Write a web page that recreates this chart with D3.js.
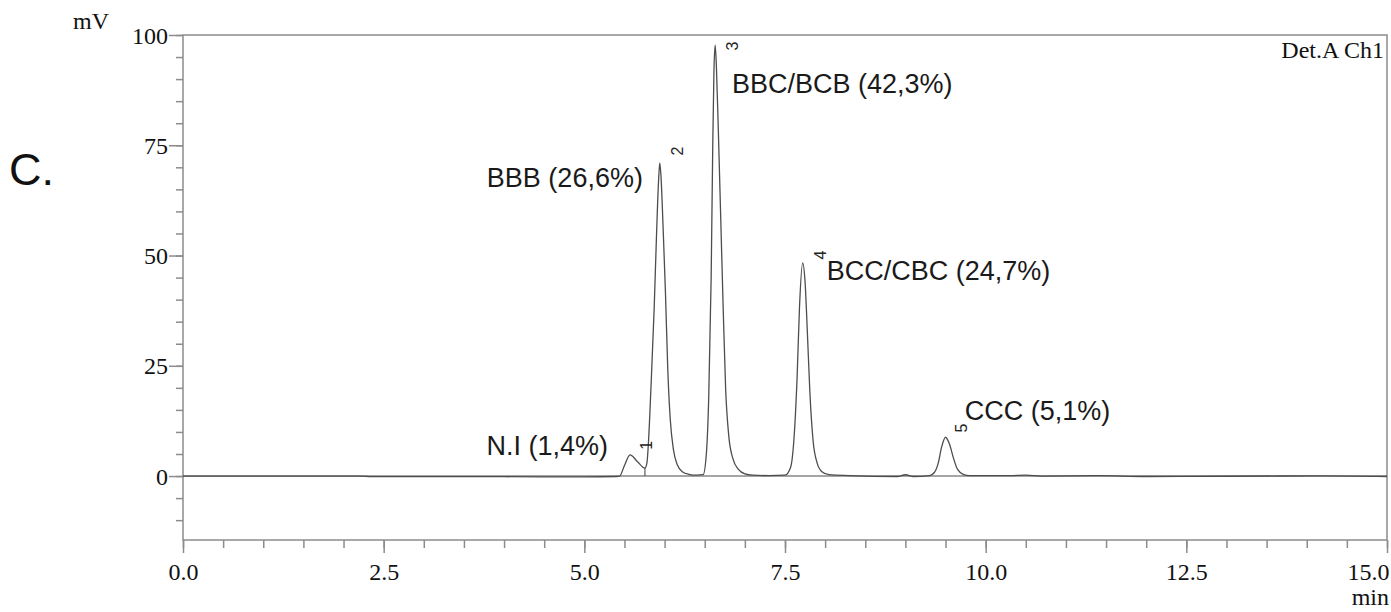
<!DOCTYPE html>
<html>
<head>
<meta charset="utf-8">
<script src="https://cdn.jsdelivr.net/npm/d3@7"></script>
<style>
  html, body { margin: 0; padding: 0; background: #fff; }
  svg { display: block; }
</style>
</head>
<body>
<svg id="chart" width="1391" height="612"></svg>
<script>
// ---------------- DATA ----------------
const xTickValues = [0, 2.5, 5, 7.5, 10, 12.5, 15];
const xTickLabels = ["0.0", "2.5", "5.0", "7.5", "10.0", "12.5", "15.0"];
const yTickValues = [0, 25, 50, 75, 100];
const yTickLabels = ["0", "25", "50", "75", "100"];

const peakNumbers = ["1", "2", "3", "4", "5"];
const peakNames = ["N.I (1,4%)", "BBB (26,6%)", "BBC/BCB (42,3%)", "BCC/CBC (24,7%)", "CCC (5,1%)"];
const peakTimes = [5.57, 5.94, 6.63, 7.72, 9.50];      // min
const peakHeights = [4.8, 71.0, 97.7, 48.3, 8.8];      // mV

// chromatogram trace: [time (min), signal (mV)]
const signal = [
  [0.00, 0.0], [1.00, 0.0], [2.20, 0.0], [2.35, -0.15], [4.00, -0.15], [5.00, -0.2], [5.40, -0.1],
  [5.44, 0.0], [5.50, 2.4], [5.57, 4.8], [5.66, 3.3], [5.755, 1.8],
  [5.78, 3.0], [5.80, 8.0], [5.83, 20], [5.87, 38], [5.90, 55], [5.925, 67], [5.94, 71.0],
  [5.955, 68], [5.98, 57], [6.01, 42], [6.04, 24], [6.07, 13], [6.11, 6], [6.16, 2.5],
  [6.22, 1.0], [6.30, 0.4], [6.40, 0.2], [6.48, 0.3],
  [6.52, 5], [6.55, 18], [6.58, 45], [6.60, 75], [6.615, 92], [6.63, 97.7], [6.645, 93],
  [6.67, 78], [6.70, 58], [6.73, 38], [6.76, 20], [6.80, 9], [6.85, 4], [6.92, 1.5],
  [7.00, 0.5], [7.10, 0.2], [7.30, 0.1], [7.50, 0.2],
  [7.57, 2], [7.61, 8], [7.65, 22], [7.68, 38], [7.72, 48.3], [7.75, 44], [7.78, 32],
  [7.81, 19], [7.85, 8], [7.90, 3], [7.96, 1.0], [8.05, 0.3], [8.30, 0.1],
  [8.90, -0.1], [9.00, 0.3], [9.10, -0.1], [9.30, 0.1],
  [9.36, 0.8], [9.41, 3.0], [9.45, 6.5], [9.50, 8.8], [9.55, 7.2], [9.60, 4.0], [9.65, 1.5],
  [9.72, 0.4], [9.80, 0.1], [10.30, 0.1], [10.50, 0.2], [10.70, 0.0], [11.40, 0.1],
  [12.00, -0.1], [13.00, -0.05], [14.20, 0.05], [15.00, -0.1]
];

// integration drop line of peak 1: [time, from mV, to mV]
const dropLines = [[5.755, 0, 1.8]];

// ---------------- LAYOUT / STYLE ----------------
const W = 1391, H = 612;
const plot = { left: 183, right: 1387, top: 35, bottom: 540 };
const frameColor = "#8c8c8c";
const traceColor = "#4d4d4d";
const serif = "'Liberation Serif', 'Times New Roman', serif";
const sans = "'Liberation Sans', Arial, sans-serif";
const serifSize = 24;

// label placement (data units) relative to peaks
const nameAnchor = [
  { t: 5.295, v: 4.76, anchor: "end" },
  { t: 5.73, v: 65.5, anchor: "end" },
  { t: 6.84, v: 86.8, anchor: "start" },
  { t: 8.02, v: 44.4, anchor: "start" },
  { t: 9.74, v: 12.7, anchor: "start" }
];
const numberAnchor = [
  { t: 5.77, v: 7.0 },
  { t: 6.154, v: 73.7 },
  { t: 6.84, v: 97.5 },
  { t: 7.94, v: 50.1 },
  { t: 9.70, v: 10.9 }
];

const svg = d3.select("#chart");

const x = d3.scaleLinear().domain([0, 15]).range([plot.left, plot.right]);
const y = d3.scaleLinear().domain([-14.5, 100]).range([plot.bottom, plot.top]);

// ---- frame ----
svg.append("rect")
  .attr("x", plot.left).attr("y", plot.top)
  .attr("width", plot.right - plot.left).attr("height", plot.bottom - plot.top)
  .attr("fill", "none").attr("stroke", frameColor).attr("stroke-width", 1.5);

// ---- x axis ----
const xMinor = d3.range(0, 15.001, 0.5);
const xAxisMinor = d3.axisBottom(x).tickValues(xMinor).tickSize(8).tickFormat("");
const gxm = svg.append("g").attr("transform", `translate(0,${plot.bottom})`).call(xAxisMinor);
const xAxisMajor = d3.axisBottom(x).tickValues(xTickValues).tickSize(13)
  .tickFormat((d, i) => xTickLabels[i]);
const gx = svg.append("g").attr("transform", `translate(0,${plot.bottom})`).call(xAxisMajor);
[gxm, gx].forEach(g => {
  g.select(".domain").remove();
  g.selectAll(".tick line").attr("stroke", frameColor).attr("stroke-width", 1.5);
});
gx.selectAll(".tick text")
  .attr("font-family", serif).attr("font-size", serifSize).attr("fill", "#111")
  .attr("y", 23).attr("dy", "0.71em")
  .attr("text-anchor", (d, i) => i === xTickValues.length - 1 ? "end" : "middle")
  .attr("dx", (d, i) => i === xTickValues.length - 1 ? 2 : 0);

// ---- y axis ----
const yMinor = d3.range(-10, 100.001, 5);
const yAxisMinor = d3.axisLeft(y).tickValues(yMinor).tickSize(7).tickFormat("");
const gym = svg.append("g").attr("transform", `translate(${plot.left},0)`).call(yAxisMinor);
const yAxisMajor = d3.axisLeft(y).tickValues(yTickValues).tickSize(14)
  .tickFormat((d, i) => yTickLabels[i]);
const gy = svg.append("g").attr("transform", `translate(${plot.left},0)`).call(yAxisMajor);
[gym, gy].forEach(g => {
  g.select(".domain").remove();
  g.selectAll(".tick line").attr("stroke", frameColor).attr("stroke-width", 1.5);
});
gy.selectAll(".tick text")
  .attr("font-family", serif).attr("font-size", serifSize).attr("fill", "#111")
  .attr("x", -15).attr("dy", "0.34em");

// ---- axis titles ----
svg.append("text").attr("x", 91).attr("y", 29).attr("text-anchor", "middle")
  .attr("font-family", serif).attr("font-size", serifSize).attr("fill", "#111").text("mV");
svg.append("text").attr("x", 1389).attr("y", 605).attr("text-anchor", "end")
  .attr("font-family", serif).attr("font-size", serifSize).attr("fill", "#111").text("min");
svg.append("text").attr("x", 1384).attr("y", 58).attr("text-anchor", "end")
  .attr("font-family", serif).attr("font-size", serifSize).attr("fill", "#111").text("Det.A Ch1");
svg.append("text").attr("x", 9).attr("y", 185)
  .attr("font-family", sans).attr("font-size", 45).attr("fill", "#111").text("C.");

// ---- zero / integration baseline ----
svg.append("line")
  .attr("x1", x(0)).attr("x2", x(15)).attr("y1", y(0)).attr("y2", y(0))
  .attr("stroke", traceColor).attr("stroke-width", 1.1);

// ---- trace ----
const line = d3.line().x(d => x(d[0])).y(d => y(d[1])).curve(d3.curveMonotoneX);
svg.append("path").datum(signal)
  .attr("d", line).attr("fill", "none")
  .attr("stroke", traceColor).attr("stroke-width", 1.3).attr("stroke-linejoin", "round");

svg.selectAll("line.drop").data(dropLines).enter().append("line").attr("class", "drop")
  .attr("x1", d => x(d[0])).attr("x2", d => x(d[0]))
  .attr("y1", d => y(d[1])).attr("y2", d => y(d[2]))
  .attr("stroke", traceColor).attr("stroke-width", 1.1);

// ---- peak names ----
svg.selectAll("text.pname").data(peakNames).enter().append("text").attr("class", "pname")
  .attr("x", (d, i) => x(nameAnchor[i].t))
  .attr("y", (d, i) => y(nameAnchor[i].v))
  .attr("text-anchor", (d, i) => nameAnchor[i].anchor)
  .attr("font-family", sans).attr("font-size", 27).attr("fill", "#1a1a1a")
  .text(d => d);

// ---- peak numbers (rotated) ----
svg.selectAll("text.pnum").data(peakNumbers).enter().append("text").attr("class", "pnum")
  .attr("transform", (d, i) => `translate(${x(numberAnchor[i].t)},${y(numberAnchor[i].v)}) rotate(-90)`)
  .attr("text-anchor", "middle").attr("dy", "0.35em")
  .attr("font-family", sans).attr("font-size", 16).attr("fill", "#222")
  .text(d => d);
</script>
</body>
</html>
